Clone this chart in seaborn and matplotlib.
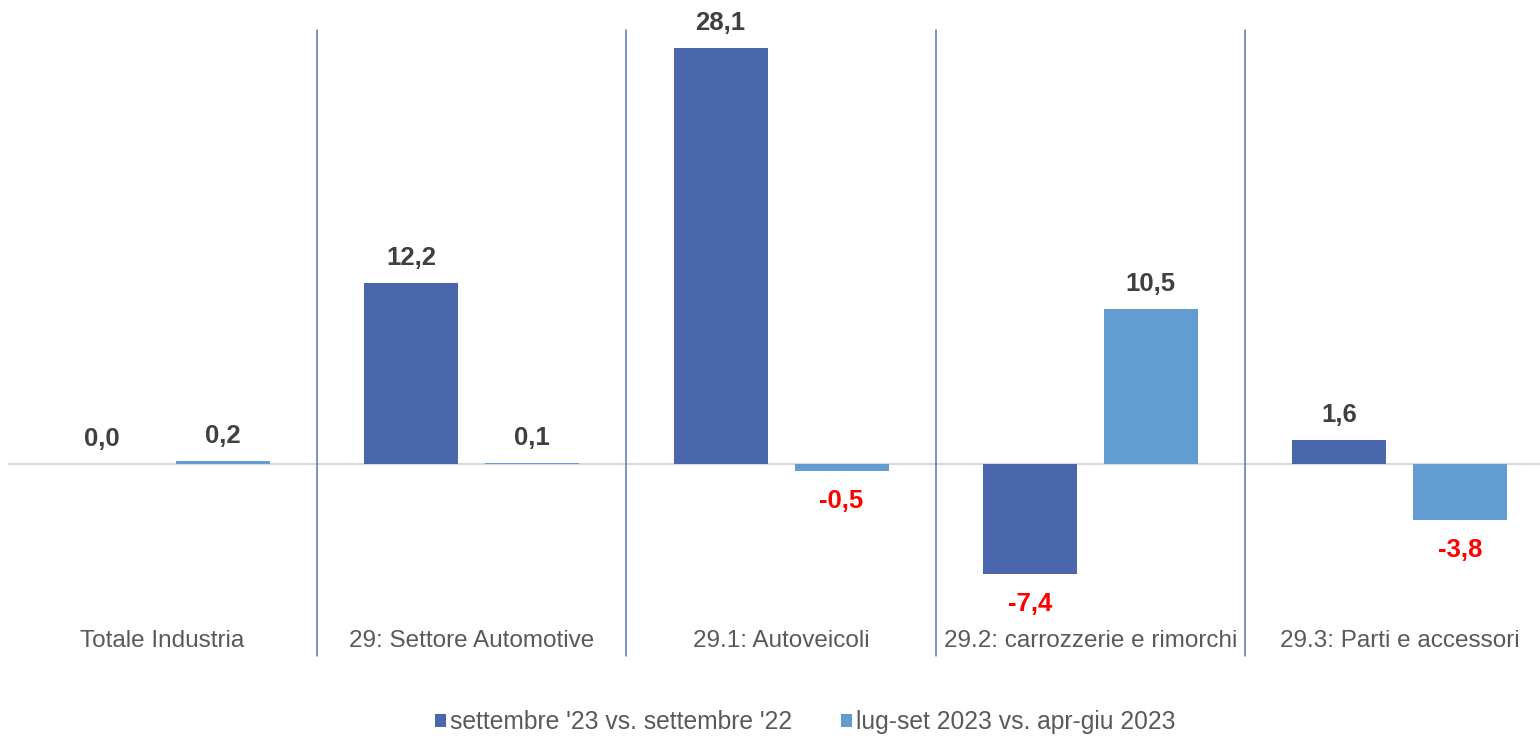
import matplotlib
matplotlib.use("Agg")
import matplotlib.pyplot as plt
import seaborn as sns
import pandas as pd

categories = ["Totale Industria", "29: Settore Automotive", "29.1: Autoveicoli",
              "29.2: carrozzerie e rimorchi", "29.3: Parti e accessori"]
series_names = ["settembre '23 vs. settembre '22", "lug-set 2023 vs. apr-giu 2023"]
values_sep = [0.0, 12.2, 28.1, -7.4, 1.6]
values_q = [0.2, 0.1, -0.5, 10.5, -3.8]
colors = ["#4A66AC", "#629DD1"]

sns.set_theme(style="white")
plt.rcParams['font.family'] = ['Liberation Sans', 'DejaVu Sans']

df = pd.DataFrame({
    "cat": categories * 2,
    "serie": [series_names[0]] * len(categories) + [series_names[1]] * len(categories),
    "val": values_sep + values_q,
})

fig = plt.figure(figsize=(15.4, 7.36), dpi=100)
ax = fig.add_axes([8 / 1540, 1 - 660 / 736, 1532 / 1540, 640 / 736])

ax.axhline(0, color="#D9D9D9", lw=1.5, zorder=0.5)

sns.barplot(data=df, x="cat", y="val", hue="serie", palette=colors, order=categories,
            hue_order=series_names, width=0.782, gap=0.223, ax=ax, legend=True,
            saturation=1, linewidth=0)

ax.set_xlim(-0.5, 4.454)
ax.set_ylim(-13.24, 30.0)

for xb in [0.5, 1.5, 2.5, 3.5]:
    ax.plot([xb, xb], [-13.0, 29.3], color="#5A73B8", lw=1.1, zorder=0.6)

for container, vals in zip(ax.containers, [values_sep, values_q]):
    for rect, v in zip(container.patches, vals):
        xc = rect.get_x() + rect.get_width() / 2
        txt = f"{v:.1f}".replace(".", ",")
        if v < 0:
            off, col = -30, "#FF0000"
        else:
            off, col = 25, "#404040"
        ax.annotate(txt, (xc, v), xytext=(0, off), textcoords="offset pixels",
                    ha="center", va="center", fontsize=18.5, fontweight="bold", color=col)

for i, c in enumerate(categories):
    ax.text(i, -11.96, c, ha="center", va="center", fontsize=17.5, color="#595959")

ax.set_xticks([])
ax.set_yticks([])
ax.set_xlabel("")
ax.set_ylabel("")
for s in ax.spines.values():
    s.set_visible(False)

handles, labels = ax.get_legend_handles_labels()
ax.get_legend().remove()
fig.legend(handles, labels, loc="center", bbox_to_anchor=(0.523, 1 - 722 / 736), ncol=2,
           frameon=False, fontsize=17.7, labelcolor="#595959", handlelength=0.45,
           handleheight=0.45, handletextpad=0.15, columnspacing=2.0)

fig.savefig("out.png", dpi=100)
